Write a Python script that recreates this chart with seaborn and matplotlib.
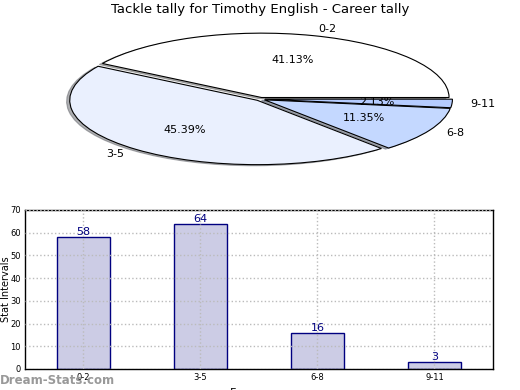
import matplotlib
matplotlib.use("Agg")
import matplotlib.pyplot as plt
import seaborn as sns
import pandas as pd

categories = ["0-2", "3-5", "6-8", "9-11"]
counts = [58, 64, 16, 3]
pie_colors = ["#FFFFFF", "#EAF0FE", "#C4D8FF", "#B5CCFF"]
title = "Tackle tally for Timothy English - Career tally"

sns.set_style("white")
plt.rcParams['font.family'] = ['DejaVu Sans']
plt.rcParams['text.color'] = 'black'
plt.rcParams['axes.labelcolor'] = 'black'
plt.rcParams['xtick.color'] = 'black'
plt.rcParams['ytick.color'] = 'black'

fig = plt.figure(figsize=(5.2, 3.9), dpi=100)

# Pie
ax1 = fig.add_axes([0.057, 0.543, 0.887, 0.406])
wedges, texts, autotexts = ax1.pie(
    counts, labels=categories, colors=pie_colors, autopct="%.2f%%",
    explode=[0.025, 0.025, 0.025, 0.025],
    shadow=dict(ox=-0.012, oy=-0.012, shade=0.6), startangle=0,
    wedgeprops=dict(edgecolor="black", linewidth=0.8),
    textprops=dict(fontsize=8, color="black"), labeldistance=1.1, pctdistance=0.6)
ax1.set_aspect("auto")
ax1.set_xlim(-1.23, 1.23)
ax1.set_ylim(-1.23, 1.23)
ax1.axis("off")
fig.text(0.5, 0.975, title, ha="center", va="center", fontsize=9.5)

# Bars
ax2 = fig.add_axes([0.048, 0.054, 0.9, 0.4077])
df = pd.DataFrame({"cat": categories, "val": counts})
sns.barplot(data=df, x="cat", y="val", ax=ax2, color="#CCCCE5",
            edgecolor="#000080", linewidth=1.0, width=0.45, saturation=1)
ax2.set_xlim(-0.5, 3.5)
ax2.set_ylim(0, 70)
ax2.set_yticks(range(0, 71, 10))
ax2.tick_params(labelsize=6, length=2, pad=1)
ax2.grid(True, linestyle=":", color="#BBBBBB", linewidth=1)
ax2.set_axisbelow(False)
for p in ax2.patches:
    p.set_zorder(1)
ax2.set_ylabel("Stat Intervals", fontsize=7)
ax2.yaxis.set_label_coords(-0.029, 0.5)
ax2.set_xlabel("Frequency", fontsize=8, labelpad=4)
for i, v in enumerate(counts):
    ax2.text(i, v, str(v), ha="center", va="bottom", color="#000080", fontsize=8)
for s in ax2.spines.values():
    s.set_color("black")
    s.set_linewidth(1)

fig.text(0.0, 0.025, "Dream-Stats.com", color="#999999", fontsize=8.5,
         fontweight="bold", ha="left", va="center")

fig.savefig("out.png", dpi=100)
